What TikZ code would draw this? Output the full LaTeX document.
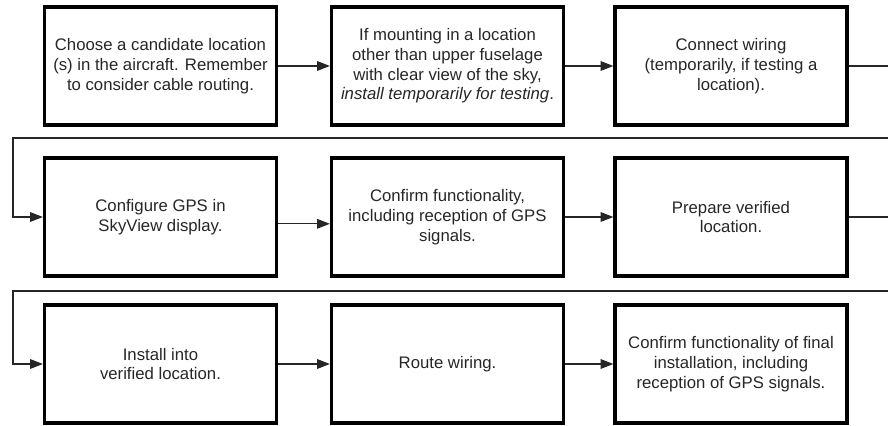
\documentclass[tikz,border=0pt]{standalone}
\usepackage{fontspec}
\setmainfont{Liberation Sans}
\usepackage{xcolor}
\usetikzlibrary{arrows.meta}
\definecolor{txtgray}{HTML}{262626}

\begin{document}
\begin{tikzpicture}[x=0.025cm, y=-0.025cm, >={Triangle[length=3.2mm,width=2.4mm]},
    stepbox/.style={draw=black, line width=2.2pt, minimum width=5.8cm, minimum height=2.95cm,
        align=center, text=txtgray, font=\fontsize{11.9}{14}\selectfont},
    flow/.style={->, line width=0.9pt, draw=black!85}]
    \clip (0,0) rectangle (888,426);
    % first row
    \node[stepbox] (choose) at (160.5,66) {Choose a candidate location\\(s) in the aircraft. Remember\\to consider cable routing.};
    \node[stepbox] (mount) at (447.5,66) {If mounting in a location\\other than upper fuselage\\with clear view of the sky,\\\textit{install temporarily for testing}.};
    \node[stepbox] (wire) at (731,66) {Connect wiring\\(temporarily, if testing a\\location).};
    % second row
    \node[stepbox] (config) at (160.5,217) {Configure GPS in\\SkyView display.};
    \node[stepbox] (confirm) at (447.5,217) {Confirm functionality,\\including reception of GPS\\signals.};
    \node[stepbox] (prepare) at (731,217) {Prepare verified\\location.};
    % third row
    \node[stepbox] (install) at (160.5,364) {Install into\\verified location.};
    \node[stepbox] (route) at (447.5,364) {Route wiring.};
    \node[stepbox] (final) at (731,364) {Confirm functionality of final\\installation, including\\reception of GPS signals.};
    % turning points of the return lines
    \coordinate (edge1) at (900,138);
    \coordinate (back1) at (13,138);
    \coordinate (edge2) at (900,291);
    \coordinate (back2) at (13,291);

    \draw[flow] (choose) -- (mount);
    \draw[flow] (mount) -- (wire);
    \draw[flow] (wire.east) -| (edge1) -- (back1) |- (config.west);
    \draw[flow] ([yshift=-0.17cm]config.east) -- ([yshift=-0.17cm]confirm.west);
    \draw[flow] (confirm) -- (prepare);
    \draw[flow] (prepare.east) -| (edge2) -- (back2) |- (install.west);
    \draw[flow] (install) -- (route);
    \draw[flow] (route) -- (final);
\end{tikzpicture}
\end{document}
